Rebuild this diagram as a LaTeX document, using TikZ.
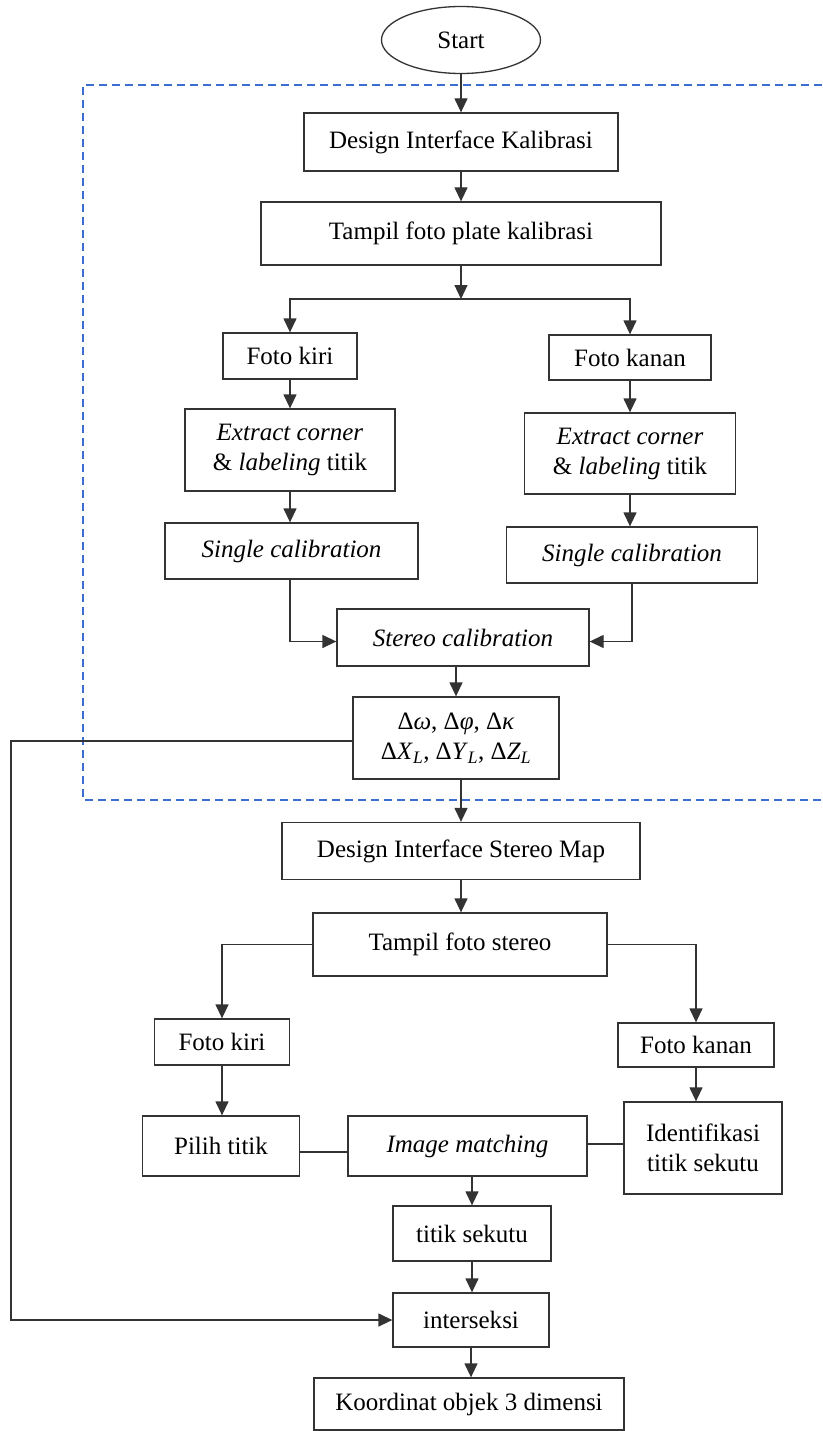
\documentclass[tikz,border=0pt]{standalone}
\usepackage{fontspec}
\setmainfont{Liberation Serif}
\usetikzlibrary{arrows.meta,shapes.geometric}
\definecolor{dashblue}{RGB}{60,110,210}

\begin{document}
\begin{tikzpicture}[x=1pt, y=-1pt, font=\fontsize{25}{30}\selectfont,
  box/.style={draw=black!80, line width=1.3pt, inner sep=0pt, align=center},
  flow/.style={draw=black!80, line width=1.3pt, -{Triangle[width=13pt,length=14pt]}},
  link/.style={draw=black!80, line width=1.3pt}]
\useasboundingbox (0,0) rectangle (822,1431);
\draw[dashblue, line width=1.4pt, dash pattern=on 8pt off 5pt] (822,85) -- (83,85) -- (83,800) -- (822,800); % calibration part
\node[box, ellipse, minimum width=159pt, minimum height=67pt] (start) at (461,40) {Start};
\node[box, minimum width=314pt, minimum height=58pt] (dik) at (461,142) {Design Interface Kalibrasi};
\node[box, minimum width=400pt, minimum height=63pt] (tfpk) at (461,233.5) {Tampil foto plate kalibrasi};
\node[box, minimum width=134pt, minimum height=46pt] (fkiri1) at (290,356) {Foto kiri};
\node[box, minimum width=162pt, minimum height=45pt] (fkanan1) at (630,357.5) {Foto kanan};
\node[box, minimum width=210pt, minimum height=82pt] (ecl) at (290,450) {\textit{Extract corner}\\ \& \textit{labeling} titik};
\node[box, minimum width=211pt, minimum height=81pt] (ecr) at (630,453.5) {\textit{Extract corner}\\ \& \textit{labeling} titik};
\node[box, minimum width=253pt, minimum height=56pt] (scl) at (291.5,551) {\textit{Single calibration}};
\node[box, minimum width=251pt, minimum height=56pt] (scr) at (632,555) {\textit{Single calibration}};
\node[box, minimum width=252pt, minimum height=57pt] (stc) at (463,637.5) {\textit{Stereo calibration}};
\node[box, minimum width=206pt, minimum height=82pt] (delta) at (456,738)
  {Δ\textit{ω}, Δ\textit{φ}, Δ\textit{κ}\\ Δ\textit{X}\textsubscript{\textit{L}}, Δ\textit{Y}\textsubscript{\textit{L}}, Δ\textit{Z}\textsubscript{\textit{L}}};
\node[box, minimum width=358pt, minimum height=57pt] (dism) at (461,851) {Design Interface Stereo Map};
\node[box, minimum width=294pt, minimum height=63pt] (tfs) at (460,944.5) {Tampil foto stereo};
\node[box, minimum width=135pt, minimum height=46pt] (fkiri2) at (222,1042) {Foto kiri};
\node[box, minimum width=156pt, minimum height=44pt] (fkanan2) at (696,1045) {Foto kanan};
\node[box, minimum width=157pt, minimum height=60pt] (pilih) at (221,1146) {Pilih titik};
\node[box, minimum width=239pt, minimum height=60pt] (imgm) at (467.5,1146) {\textit{Image matching}};
\node[box, minimum width=158pt, minimum height=92pt] (ident) at (703,1148) {Identifikasi\\ titik sekutu};
\node[box, minimum width=158pt, minimum height=55pt] (tsek) at (472,1233.5) {titik sekutu};
\node[box, minimum width=156pt, minimum height=54pt] (inter) at (471,1320) {interseksi};
\node[box, minimum width=310pt, minimum height=52pt] (koord) at (469,1404) {Koordinat objek 3 dimensi};
\coordinate (split) at (461,299);
\coordinate (back) at (11,741);
\draw[flow] (start) -- (dik);
\draw[flow] (dik) -- (tfpk);
\draw[flow] (tfpk) -- (split);
\draw[flow] (split) -| (fkiri1);
\draw[flow] (split) -| (fkanan1);
\draw[flow] (fkiri1) -- (ecl);
\draw[flow] (ecl) -- (ecl.south |- scl.north);
\draw[flow] (fkanan1) -- (ecr);
\draw[flow] (ecr.south) -- (ecr.south |- scr.north);
\draw[flow] (scl.south -| ecl) |- ([yshift=-4pt]stc.west);
\draw[flow] (scr.south) |- ([yshift=-4pt]stc.east);
\draw[flow] (stc.south -| delta) -- (delta);
\draw[flow] (delta.south -| dism) -- (dism);
\draw[flow] (dism) -- (dism.south |- tfs.north);
\draw[flow] (tfs.west) -| (fkiri2);
\draw[flow] (tfs.east) -| (fkanan2);
\draw[flow] (fkiri2) -- (fkiri2 |- pilih.north);
\draw[flow] (fkanan2.south) -- (fkanan2.south |- ident.north);
\draw[link] ([yshift=-6pt]pilih.east) -- ([yshift=-6pt]pilih.east -| imgm.west);
\draw[link] ([yshift=2pt]imgm.east) -- ([yshift=2pt]imgm.east -| ident.west);
\draw[flow] (imgm.south -| tsek) -- (tsek);
\draw[flow] (tsek) -- (tsek |- inter.north);
\draw[flow] (inter) -- (inter |- koord.north);
\draw[flow] (delta.west |- back) -- (back) |- (inter.west);
\end{tikzpicture}
\end{document}
